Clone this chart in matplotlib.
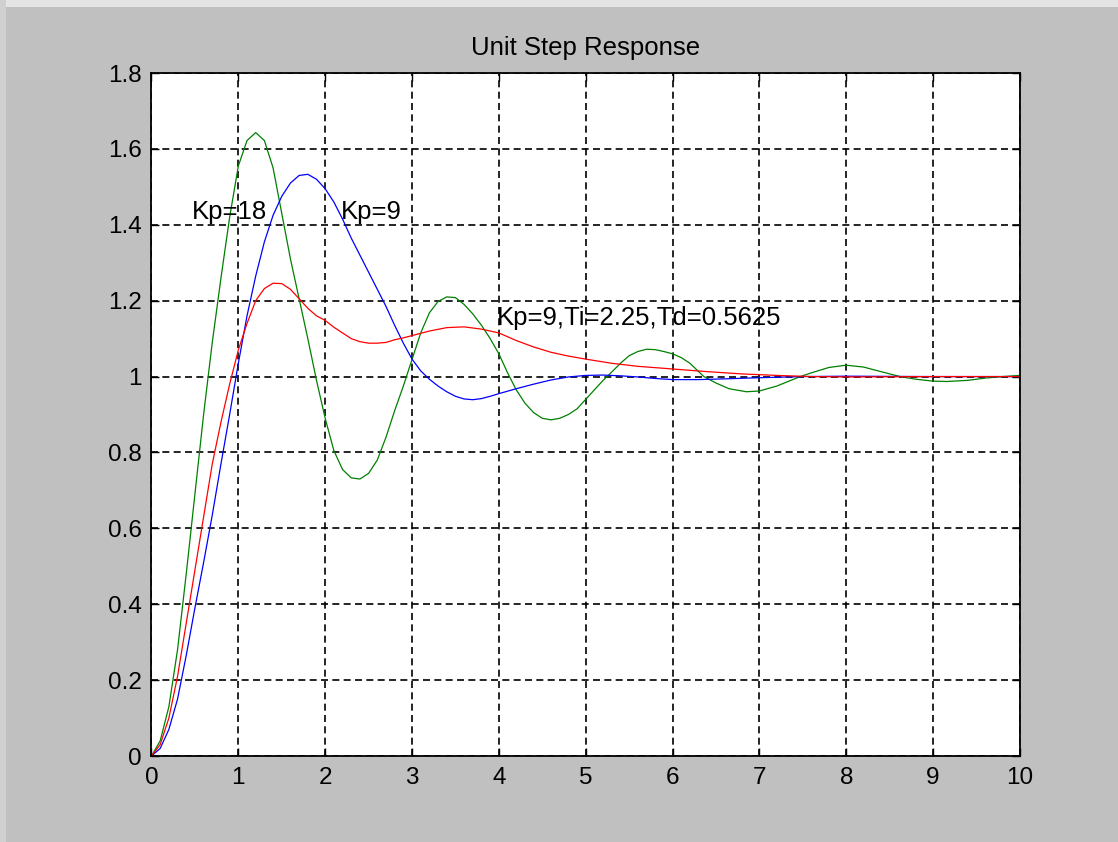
import matplotlib
matplotlib.use("Agg")
import matplotlib.pyplot as plt
from matplotlib.patches import Rectangle

plt.rcParams['font.family'] = ['Liberation Sans', 'DejaVu Sans']

# Kp=18 (green)
t_kp18 = [0.0, 0.1, 0.2, 0.3, 0.4, 0.5, 0.6, 0.7, 0.8, 0.9, 1.0, 1.1, 1.2, 1.3,
          1.4, 1.5, 1.6, 1.7, 1.8, 1.9, 2.0, 2.1, 2.2, 2.3, 2.4, 2.5, 2.6, 2.7,
          2.8, 2.9, 3.0, 3.1, 3.2, 3.3, 3.4, 3.5, 3.6, 3.7, 3.8, 3.9, 4.0, 4.1,
          4.2, 4.3, 4.4, 4.5, 4.6, 4.7, 4.8, 4.9, 5.0, 5.1, 5.2, 5.3, 5.4, 5.5,
          5.6, 5.7, 5.8, 5.9, 6.0, 6.1, 6.2, 6.36, 6.5, 6.65, 6.85, 7.0, 7.2,
          7.47, 7.6, 7.8, 8.0, 8.2, 8.4, 8.62, 8.8, 9.0, 9.16, 9.4, 9.6, 9.8, 10.0]
y_kp18 = [0.0, 0.04, 0.13, 0.28, 0.48, 0.69, 0.9, 1.09, 1.26, 1.42, 1.555, 1.622,
          1.643, 1.622, 1.55, 1.43, 1.31, 1.205, 1.1, 0.99, 0.89, 0.805, 0.755,
          0.733, 0.73, 0.745, 0.78, 0.84, 0.91, 0.975, 1.045, 1.115, 1.168, 1.198,
          1.21, 1.208, 1.19, 1.165, 1.135, 1.1, 1.06, 1.01, 0.965, 0.93, 0.905,
          0.89, 0.886, 0.89, 0.9, 0.915, 0.94, 0.965, 0.99, 1.012, 1.035, 1.055,
          1.066, 1.072, 1.071, 1.066, 1.06, 1.05, 1.035, 1.0, 0.983, 0.968,
          0.96, 0.962, 0.975, 1.0, 1.01, 1.024, 1.03, 1.025, 1.013, 1.0, 0.993,
          0.988, 0.987, 0.99, 0.996, 1.0, 1.003]

# Kp=9 (blue)
t_kp9 = [0.0, 0.1, 0.2, 0.3, 0.4, 0.5, 0.6, 0.7, 0.8, 0.9, 1.0, 1.1, 1.2, 1.3,
         1.4, 1.5, 1.6, 1.7, 1.8, 1.9, 2.0, 2.1, 2.2, 2.3, 2.4, 2.5, 2.6, 2.7,
         2.8, 2.9, 3.0, 3.1, 3.2, 3.3, 3.4, 3.5, 3.6, 3.7, 3.8, 3.9, 4.0, 4.2,
         4.4, 4.6, 4.8, 5.0, 5.2, 5.4, 5.6, 5.8, 6.0, 6.3, 6.6, 7.0, 7.5, 8.0,
         9.0, 10.0]
y_kp9 = [0.0, 0.02, 0.07, 0.15, 0.265, 0.39, 0.51, 0.635, 0.77, 0.9, 1.035,
         1.16, 1.265, 1.355, 1.425, 1.475, 1.51, 1.53, 1.533, 1.52, 1.495, 1.46,
         1.415, 1.365, 1.32, 1.275, 1.23, 1.185, 1.135, 1.088, 1.046, 1.015, 0.993,
         0.975, 0.96, 0.948, 0.941, 0.939, 0.942, 0.948, 0.955, 0.968, 0.98,
         0.991, 0.999, 1.003, 1.004, 1.002, 0.999, 0.995, 0.992, 0.992, 0.994,
         0.997, 1.0, 1.001, 1.0, 1.0]

# Kp=9, Ti=2.25, Td=0.5625 (red)
t_pid = [0.0, 0.1, 0.2, 0.3, 0.4, 0.5, 0.6, 0.7, 0.8, 0.9, 1.0, 1.1, 1.2, 1.3,
         1.4, 1.5, 1.6, 1.7, 1.8, 1.9, 2.0, 2.1, 2.2, 2.3, 2.4, 2.5, 2.6, 2.7,
         2.8, 2.9, 3.0, 3.2, 3.4, 3.6, 3.8, 4.0, 4.2, 4.4, 4.6, 4.8, 5.0, 5.3,
         5.6, 6.0, 6.4, 6.8, 7.2, 7.6, 8.0, 9.0, 10.0]
y_pid = [0.0, 0.03, 0.1, 0.21, 0.35, 0.49, 0.63, 0.77, 0.88, 0.98, 1.07, 1.14,
         1.2, 1.232, 1.246, 1.245, 1.23, 1.205, 1.18, 1.16, 1.148, 1.13, 1.115,
         1.1, 1.092, 1.088, 1.088, 1.09, 1.097, 1.102, 1.108, 1.12, 1.129,
         1.131, 1.125, 1.115, 1.095, 1.078, 1.064, 1.054, 1.046, 1.035, 1.027,
         1.02, 1.013, 1.007, 1.003, 1.0, 0.999, 1.0, 1.0]

x_ticks = list(range(0, 11))
y_ticks = [0, 0.2, 0.4, 0.6, 0.8, 1, 1.2, 1.4, 1.6, 1.8]
y_tick_labels = ['0', '0.2', '0.4', '0.6', '0.8', '1', '1.2', '1.4', '1.6', '1.8']

fig = plt.figure(figsize=(11.18, 8.42), dpi=100, facecolor='#c0c0c0')
# light strip along top and left edge of the screenshot
fig.patches.append(Rectangle((0, 0.992), 1, 0.008, transform=fig.transFigure,
                             facecolor='#e4e4e4', edgecolor='none'))
fig.patches.append(Rectangle((0, 0), 0.005, 1, transform=fig.transFigure,
                             facecolor='#d0d0d0', edgecolor='none'))

ax = fig.add_axes([0.1355, 0.1021, 0.7768, 0.8112])
ax.set_facecolor('white')

ax.plot(t_kp18, y_kp18, color='#008000', lw=0.9)
ax.plot(t_kp9, y_kp9, color='#0000ff', lw=0.9)
ax.plot(t_pid, y_pid, color='#ff0000', lw=0.9)

ax.set_xlim(0, 10)
ax.set_ylim(0, 1.8)
ax.set_xticks(x_ticks)
ax.set_yticks(y_ticks)
ax.set_yticklabels(y_tick_labels)

ax.grid(True, color='black', lw=1.2, ls=(0, (4.2, 2.6)))
ax.set_axisbelow(True)
ax.tick_params(direction='in', length=6, width=1, top=True, right=True,
               labelsize=17.5, colors='black')
ax.tick_params(axis='x', pad=8)
ax.tick_params(axis='y', pad=7)
for s in ax.spines.values():
    s.set_linewidth(1.3)
    s.set_color('black')

ax.set_title('Unit Step Response', fontsize=18.5, pad=13)

ax.text(0.47, 1.435, 'Kp=18', fontsize=18.5, va='center', ha='left')
ax.text(2.18, 1.435, 'Kp=9', fontsize=18.5, va='center', ha='left')
ax.text(3.98, 1.154, 'Kp=9,Ti=2.25,Td=0.5625', fontsize=18.5, va='center', ha='left')

fig.savefig('out.png', dpi=100, facecolor=fig.get_facecolor())
